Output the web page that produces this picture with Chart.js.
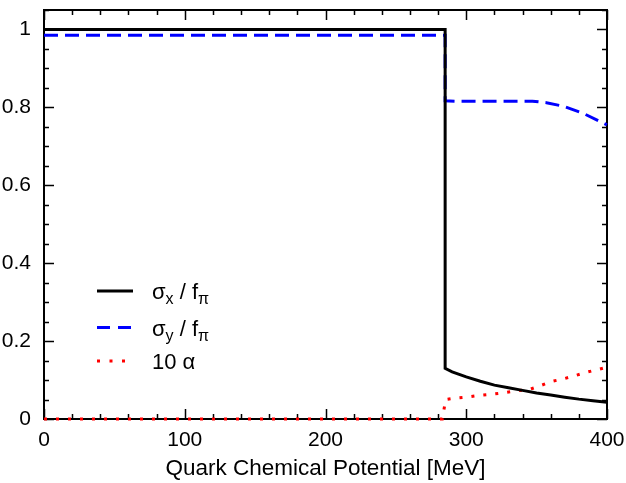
<!DOCTYPE html>
<html>
<head>
<meta charset="utf-8">
<script src="https://cdn.jsdelivr.net/npm/chart.js@4.4.1/dist/chart.umd.min.js"></script>
<style>
  html, body { margin: 0; padding: 0; background: #fff; }
  #wrap { width: 626px; height: 483px; }
</style>
</head>
<body>
<div id="wrap"><canvas id="chart" width="626" height="483"></canvas></div>
<script>
// values
const muX = [0, 285, 285, 290, 300, 310, 320, 330, 340, 350, 360, 370, 380, 390, 400];
const sigmaX = [1.0, 1.0, 0.130, 0.121, 0.108, 0.097, 0.087, 0.080, 0.0735, 0.067, 0.0615, 0.056, 0.051, 0.047, 0.043];

const muY = [0, 285, 285, 292, 347, 357, 369, 383, 397, 400];
const sigmaY = [0.985, 0.985, 0.817, 0.816, 0.816, 0.812, 0.803, 0.785, 0.760, 0.755];

const muA = [0, 283, 285.4, 293, 302, 310, 319, 328, 336.5, 345, 353, 361, 369, 378, 386, 394.5, 400];
const alpha10 = [0, 0, 0.050, 0.054, 0.057, 0.061, 0.064, 0.068, 0.0726, 0.076, 0.086, 0.0966, 0.103, 0.112, 0.1205, 0.128, 0.133];

const xTicks = [0, 100, 200, 300, 400];
const yTicks = [0, 0.2, 0.4, 0.6, 0.8, 1];
const xMinorStep = 20;
const yMinorStep = 0.05;

const FONT = '"Liberation Sans", Arial, Helvetica, sans-serif';

function pts(xs, ys) {
    return xs.map((x, i) => ({ x: x, y: ys[i] }));
}

// frame with inward ticks on all four sides
const framePlugin = {
    id: 'frame',
    beforeDatasetsDraw(chart) {
        const { ctx, chartArea: a, scales } = chart;
        ctx.save();
        ctx.strokeStyle = '#000';
        ctx.lineWidth = 1.5;
        for (let v = 0; v <= 400; v += xMinorStep) {
            const px = Math.round(scales.x.getPixelForValue(v)) + 0.5;
            const len = v % 100 === 0 ? 10 : 5;
            ctx.beginPath();
            ctx.moveTo(px, a.bottom); ctx.lineTo(px, a.bottom - len);
            ctx.moveTo(px, a.top); ctx.lineTo(px, a.top + len);
            ctx.stroke();
        }
        for (let i = 0; i * yMinorStep <= 1.05 + 1e-9; i++) {
            const v = i * yMinorStep;
            const py = Math.round(scales.y.getPixelForValue(v)) + 0.5;
            const len = i % 4 === 0 ? 10 : 5;
            ctx.beginPath();
            ctx.moveTo(a.left, py); ctx.lineTo(a.left + len, py);
            ctx.moveTo(a.right, py); ctx.lineTo(a.right - len, py);
            ctx.stroke();
        }
        ctx.lineWidth = 2;
        ctx.strokeRect(a.left, a.top, a.right - a.left, a.bottom - a.top);
        ctx.restore();
    },
    afterDraw(chart) {
        // legend
        const ctx = chart.ctx;
        const rows = [
            { y: 291, color: '#000', dash: [], label: [['σ', 0], ['x', 1], [' / f', 0], ['π', 1]] },
            { y: 327.5, color: '#0000ff', dash: [13, 8], label: [['σ', 0], ['y', 1], [' / f', 0], ['π', 1]] },
            { y: 361, color: '#ff0000', dash: [3, 9.5], label: [['10 α', 0]] }
        ];
        ctx.save();
        rows.forEach(r => {
            ctx.strokeStyle = r.color;
            ctx.lineWidth = 3;
            ctx.setLineDash(r.dash);
            ctx.beginPath();
            ctx.moveTo(97, r.y); ctx.lineTo(133, r.y);
            ctx.stroke();
            ctx.setLineDash([]);
            ctx.fillStyle = '#000';
            ctx.textBaseline = 'alphabetic';
            let x = 152;
            r.label.forEach(([t, sub]) => {
                ctx.font = (sub ? '16px ' : '22px ') + FONT;
                ctx.fillText(t, x, r.y + 8 + (sub ? 5 : 0));
                x += ctx.measureText(t).width;
            });
        });
        ctx.restore();
    }
};

const ctx = document.getElementById('chart').getContext('2d');
new Chart(ctx, {
    type: 'line',
    data: {
        datasets: [
            { data: pts(muX, sigmaX), borderColor: '#000', borderWidth: 3 },
            { data: pts(muY, sigmaY), borderColor: '#0000ff', borderWidth: 3, borderDash: [14, 7] },
            { data: pts(muA, alpha10), borderColor: '#ff0000', borderWidth: 3, borderDash: [3, 9] }
        ]
    },
    options: {
        responsive: false,
        animation: false,
        devicePixelRatio: 1,
        layout: { padding: { left: 0, right: 19, top: 10, bottom: 0 } },
        elements: { point: { radius: 0 }, line: { tension: 0, borderCapStyle: 'butt' } },
        datasets: { line: { clip: 4 } },
        plugins: { legend: { display: false }, tooltip: { enabled: false } },
        scales: {
            x: {
                type: 'linear', min: 0, max: 400,
                afterBuildTicks: s => { s.ticks = xTicks.map(v => ({ value: v })); },
                afterFit: s => { s.height = 64; s.paddingLeft = 0; s.paddingRight = 0; },
                grid: { display: false },
                border: { display: false },
                ticks: { color: '#000', font: { family: FONT, size: 21 }, padding: 1, maxRotation: 0, autoSkip: false },
                title: {
                    display: true, text: 'Quark Chemical Potential [MeV]', color: '#000',
                    font: { family: FONT, size: 22.5 }, padding: { top: 0, bottom: 1 }
                }
            },
            y: {
                type: 'linear', min: 0, max: 1.05,
                afterBuildTicks: s => { s.ticks = yTicks.map(v => ({ value: v })); },
                afterFit: s => { s.width = 44; s.paddingTop = 0; s.paddingBottom = 0; },
                grid: { display: false },
                border: { display: false },
                ticks: {
                    color: '#000', font: { family: FONT, size: 21 }, padding: 5,
                    callback: v => String(+v.toFixed(2))
                }
            }
        }
    },
    plugins: [framePlugin]
});
</script>
</body>
</html>
